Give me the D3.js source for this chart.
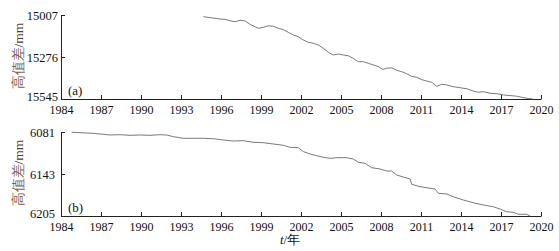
<!DOCTYPE html>
<html lang="zh">
<head>
<meta charset="UTF-8">
<title>高值差</title>
<script src="https://d3js.org/d3.v7.min.js"></script>
<style>
  body { margin: 0; background: #fff; }
  text { font-family: "Liberation Serif", "Times New Roman", serif; }
</style>
</head>
<body>
<svg width="559" height="251"></svg>
<script>
// (a) 高值差, 1994.7 - 2019.4
const yearsA = [1994.67, 1995.18, 1995.55, 1995.93, 1996.30, 1996.68, 1997.05, 1997.43, 1997.80, 1998.18,
  1998.55, 1998.80, 1999.17, 1999.55, 1999.92, 2000.30, 2000.67, 2001.05, 2001.42, 2001.80,
  2002.17, 2002.55, 2002.92, 2003.30, 2003.67, 2004.05, 2004.42, 2004.80, 2005.17, 2005.55,
  2005.92, 2006.30, 2006.67, 2007.05, 2007.42, 2007.80, 2008.13, 2008.43, 2008.80, 2009.18,
  2009.55, 2009.93, 2010.30, 2010.68, 2011.05, 2011.43, 2011.80, 2012.18, 2012.55, 2012.93,
  2013.42, 2013.93, 2014.43, 2014.92, 2015.30, 2015.67, 2016.18, 2016.68, 2017.17, 2017.68,
  2018.18, 2018.67, 2019.05, 2019.40];
const valuesA = [15018, 15024, 15028, 15033, 15035, 15044, 15050, 15041, 15045, 15067,
  15082, 15092, 15086, 15076, 15079, 15092, 15101, 15118, 15135, 15146,
  15167, 15182, 15188, 15199, 15220, 15246, 15263, 15257, 15263, 15268,
  15285, 15306, 15306, 15316, 15327, 15338, 15355, 15348, 15345, 15361,
  15370, 15383, 15400, 15406, 15421, 15430, 15438, 15464, 15451, 15455,
  15466, 15473, 15479, 15494, 15502, 15498, 15508, 15511, 15519, 15523,
  15527, 15536, 15542, 15545];

// (b) 高值差, 1984.8 - 2019.2
const yearsB = [1984.80, 1985.43, 1986.42, 1987.17, 1987.68, 1988.43, 1989.18, 1989.93, 1990.68, 1991.43,
  1991.93, 1992.42, 1993.17, 1993.92, 1994.67, 1995.42, 1996.17, 1996.92, 1997.67, 1998.42,
  1999.17, 1999.92, 2000.67, 2001.18, 2001.80, 2002.17, 2002.68, 2003.18, 2003.67, 2004.18,
  2004.68, 2005.43, 2005.92, 2006.30, 2006.80, 2007.30, 2007.93, 2008.43, 2008.80, 2009.18,
  2009.67, 2010.18, 2010.30, 2010.93, 2011.68, 2012.05, 2012.30, 2012.93, 2013.42, 2014.17,
  2014.92, 2015.67, 2016.42, 2016.93, 2017.43, 2017.93, 2018.30, 2018.93, 2019.18];
const valuesB = [6081.4, 6082.0, 6083.0, 6084.4, 6085.4, 6085.0, 6085.9, 6085.4, 6085.9, 6085.0,
  6085.4, 6087.9, 6090.3, 6090.3, 6090.3, 6090.9, 6092.8, 6094.3, 6093.8, 6096.2,
  6096.8, 6098.7, 6100.6, 6103.6, 6104.2, 6109.8, 6113.5, 6116.0, 6118.3, 6119.8,
  6118.9, 6118.9, 6120.9, 6125.7, 6127.2, 6133.7, 6135.6, 6138.6, 6138.6, 6144.5,
  6147.4, 6150.4, 6158.2, 6161.7, 6164.1, 6165.1, 6171.5, 6172.5, 6176.5, 6181.4,
  6185.4, 6188.7, 6191.3, 6194.7, 6198.7, 6199.6, 6202.5, 6202.5, 6205.0];

const xTicks = [1984, 1987, 1990, 1993, 1996, 1999, 2002, 2005, 2008, 2011, 2014, 2017, 2020];
const yTicksA = [15007, 15276, 15545];
const yTicksB = [6081, 6143, 6205];

const svg = d3.select("svg");
const left = 61, right = 541;

const x = d3.scaleLinear().domain([1984, 2020]).range([left, right]);

function panel(years, values, yTicks, top, bottom, label, labelPad) {
  const y = d3.scaleLinear().domain([yTicks[0], yTicks[2]]).range([top, bottom]);
  const g = svg.append("g");

  g.append("g")
    .attr("transform", `translate(0,${bottom})`)
    .call(d3.axisBottom(x).tickValues(xTicks).tickFormat(d3.format("d"))
      .tickSizeInner(-4).tickSizeOuter(0).tickPadding(6))
    .call(a => a.selectAll("text").attr("font-size", 12).attr("fill", "#111"));

  g.append("g")
    .attr("transform", `translate(${left},0)`)
    .call(d3.axisLeft(y).tickValues(yTicks).tickFormat(d3.format("d"))
      .tickSizeInner(-4).tickSizeOuter(0).tickPadding(labelPad))
    .call(a => a.selectAll("text").attr("font-size", 12.5).attr("fill", "#111")
      .attr("dy", (d, i) => i === yTicks.length - 1 ? "0.1em" : "0.32em"));

  g.selectAll(".domain, .tick line").attr("stroke", "#222");

  const line = d3.line().x((d, i) => x(years[i])).y(d => y(d));
  g.append("path")
    .datum(values)
    .attr("fill", "none")
    .attr("stroke", "#6a6a6a")
    .attr("stroke-width", 0.9)
    .attr("d", line);

  g.append("text")
    .attr("x", 68).attr("y", bottom - 4)
    .attr("font-size", 13).attr("fill", "#111")
    .text(label);

  const title = g.append("text")
    .attr("transform", `translate(23,${(top + bottom) / 2 - 1}) rotate(-90)`)
    .attr("text-anchor", "middle")
    .attr("font-size", 13.5);
  title.append("tspan").attr("fill", "#7d6048").text("高值差");
  title.append("tspan").attr("fill", "#4a4038").text("/mm");
}

panel(yearsA, valuesA, yTicksA, 15, 99, "(a)", 3);
panel(yearsB, valuesB, yTicksB, 132, 216, "(b)", 6);

const t = svg.append("text")
  .attr("x", 290).attr("y", 244)
  .attr("text-anchor", "middle")
  .attr("font-size", 13).attr("fill", "#111");
t.append("tspan").attr("font-style", "italic").text("t");
t.append("tspan").text("/年");
</script>
</body>
</html>
